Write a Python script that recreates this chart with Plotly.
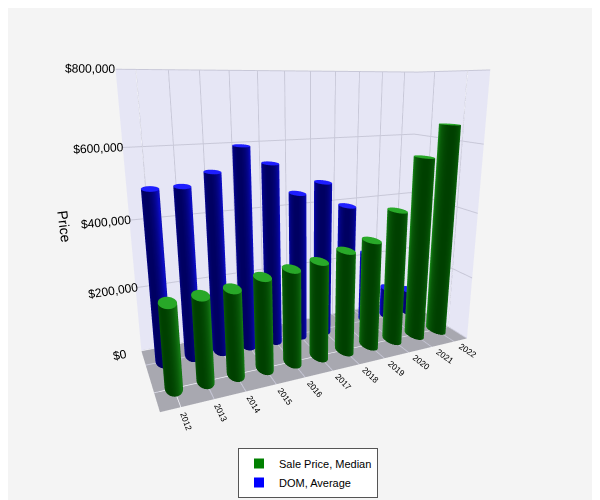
import numpy as np
import plotly.graph_objects as go

years = ["2012", "2013", "2014", "2015", "2016", "2017", "2018", "2019", "2020", "2021", "2022"]
price_median = [240000, 245000, 250000, 270000, 280000, 290000, 310000, 330000, 410000, 560000, 650000]
dom_average = [75, 75, 80, 90, 82, 68, 72, 60, 35, 15, 12]

DAYS_MAX = 120
PRICE_MAX = 800000
scale = PRICE_MAX / DAYS_MAX

theta = np.linspace(0, 2 * np.pi, 40)
r = 0.27


def cylinder(xc, yc, h, color, dark, name):
    zs = np.array([0, h])
    T, Z = np.meshgrid(theta, zs)
    X = xc + r * np.cos(T)
    Y = yc + r * np.sin(T)
    cs = [[0, dark], [0.5, color], [1, dark]]
    side = go.Surface(x=X, y=Y, z=Z, surfacecolor=np.cos(T - 0.8), colorscale=cs,
                      showscale=False, name=name, showlegend=False, hoverinfo="skip")
    R, T2 = np.meshgrid([0, r], theta)
    cap = go.Surface(x=xc + R * np.cos(T2), y=yc + R * np.sin(T2), z=np.full(R.shape, h),
                     surfacecolor=np.zeros(R.shape), colorscale=[[0, color], [1, color]],
                     showscale=False, showlegend=False, hoverinfo="skip")
    return [side, cap]


fig = go.Figure()
for i, y in enumerate(years):
    fig.add_traces(cylinder(i, 1, dom_average[i] * scale, "#1010ff", "#00007a", "DOM, Average"))
    fig.add_traces(cylinder(i, 0, price_median[i], "#1a9a1a", "#005000", "Sale Price, Median"))

# legend entries
fig.add_trace(go.Scatter3d(x=[None], y=[None], z=[None], mode="markers",
                           marker=dict(symbol="square", size=10, color="green"),
                           name="Sale Price, Median"))
fig.add_trace(go.Scatter3d(x=[None], y=[None], z=[None], mode="markers",
                           marker=dict(symbol="square", size=10, color="blue"),
                           name="DOM, Average"))

fig.update_layout(
    width=600, height=500,
    margin=dict(l=0, r=0, t=0, b=0),
    paper_bgcolor="#f4f4f4",
    font=dict(family="Liberation Sans", size=12, color="black"),
    legend=dict(x=0.5, xanchor="center", y=0.02, yanchor="bottom",
                bordercolor="#555", borderwidth=1, bgcolor="white", font=dict(size=11)),
    scene=dict(
        xaxis=dict(title="", tickvals=list(range(len(years))), ticktext=years,
                   backgroundcolor="#e6e6f5", showbackground=True, gridcolor="#c8c8d8",
                   range=[-0.6, len(years) - 0.4], tickfont=dict(size=10)),
        yaxis=dict(title="", showticklabels=False, backgroundcolor="#e6e6f5",
                   showbackground=True, gridcolor="#c8c8d8", range=[-0.6, 1.6]),
        zaxis=dict(title="Price", range=[0, PRICE_MAX], tickvals=[0, 200000, 400000, 600000, 800000],
                   ticktext=["$0", "$200,000", "$400,000", "$600,000", "$800,000"],
                   backgroundcolor="#a8a8b0", showbackground=True, gridcolor="#c8c8d8"),
        aspectmode="manual", aspectratio=dict(x=1.4, y=0.5, z=1.2),
        camera=dict(eye=dict(x=-0.9, y=-2.0, z=0.55), center=dict(x=0, y=0, z=-0.05)),
        domain=dict(x=[0, 1], y=[0.12, 1]),
    ),
)
fig.write_html("out.html")
